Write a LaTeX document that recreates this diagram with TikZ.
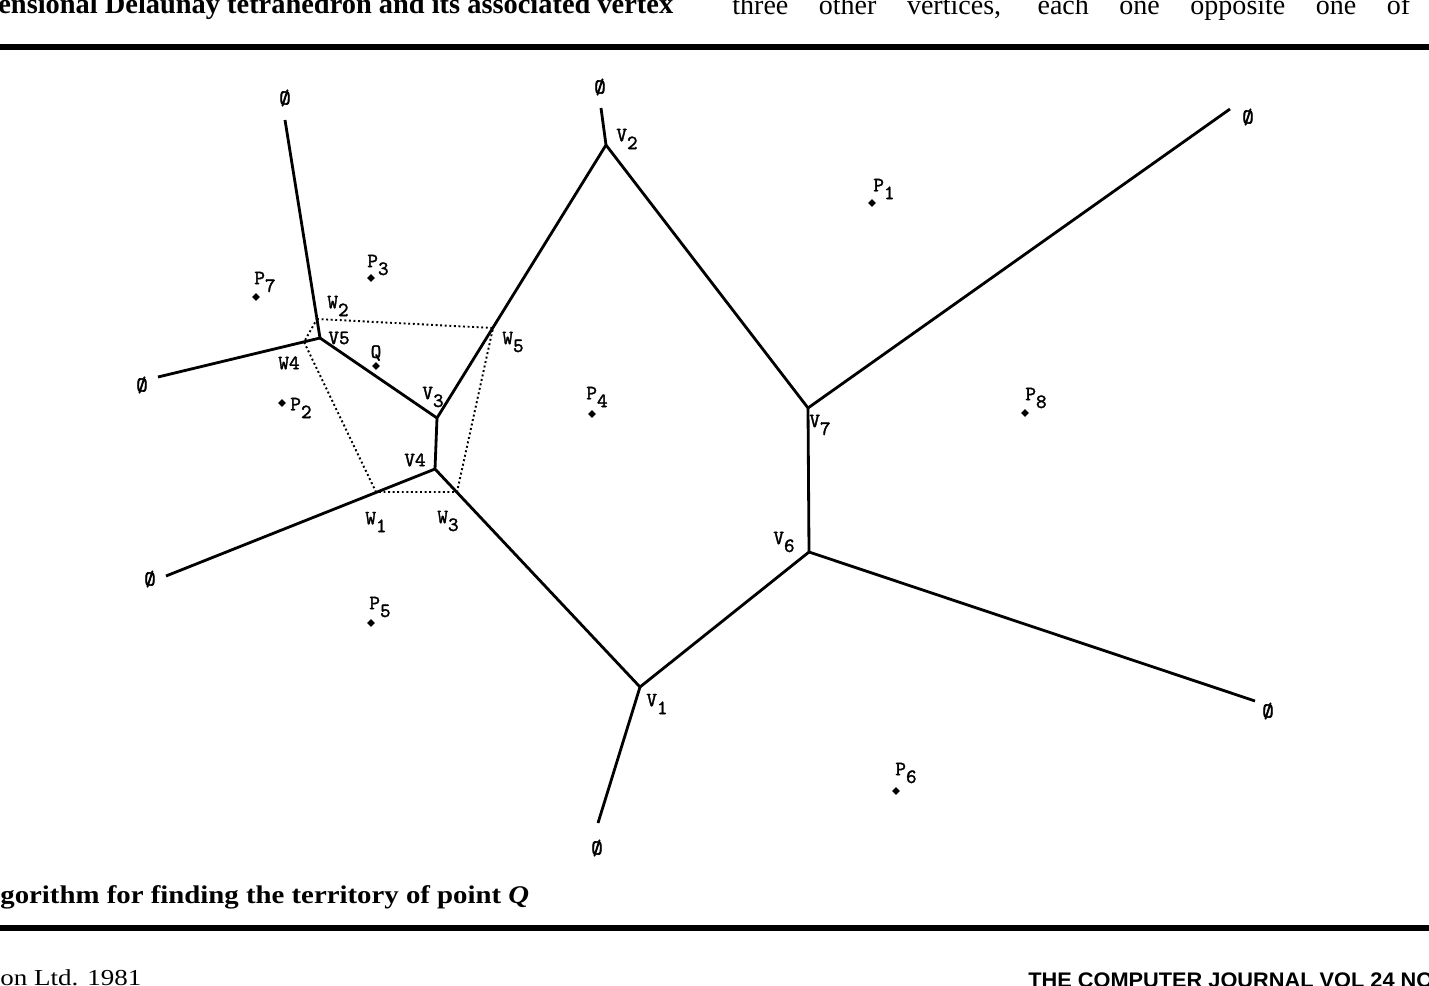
\documentclass[tikz,border=0pt]{standalone}
\usepackage{fontspec}
\usepackage{graphicx}
\usetikzlibrary{shapes.geometric}
\newfontfamily\capfont{Liberation Serif}
\newfontfamily\footfont{Liberation Sans}
\newfontfamily\lblfont{lmmono10-regular.otf}[FakeBold=1.6]
\newfontfamily\inffont{lmmono10-regular.otf}[FakeBold=3]
\newcommand{\lblsub}[2]{#1\raisebox{-0.9ex}{#2}}

\tikzset{
  edge/.style={line width=1.6pt},
  wpath/.style={line width=1.1pt, dash pattern=on 1.1pt off 1.5pt},
  site/.style={diamond, fill, inner sep=0pt, minimum size=4.6pt},
  lbl/.style={font=\fontsize{11.5}{13}\lblfont, inner sep=0pt},
  inf/.style={font=\fontsize{12}{14}\inffont, inner sep=0pt},
  page/.style={anchor=base west, inner sep=0pt},
}

\begin{document}
\begin{tikzpicture}[x=0.02cm, y=-0.02cm]
    \useasboundingbox (0,0) rectangle (1429,986);
    % page text round the figure
    \node[page] (hdl) at (-2,14) {\resizebox{13.5cm}{\height}{\capfont\bfseries\fontsize{16}{18}\selectfont ensional Delaunay tetrahedron and its associated vertex}};
    \node[page] (hdr) at (732,15) {\resizebox{13.56cm}{\height}{\capfont\fontsize{16}{18}\selectfont\makebox[13.6cm][s]{three other vertices, each one opposite one of}}};
    \draw[line width=3.4pt] (0,47) -- (1429,47);
    \node[page] (cap) at (0,903) {\resizebox{10.58cm}{\height}{\capfont\bfseries\fontsize{14.5}{16}\selectfont gorithm for finding the territory of point \textit{Q}}};
    \draw[line width=3.4pt] (0,928) -- (1429,928);
    \node[page] (ftl) at (0,985) {\resizebox{2.82cm}{\height}{\capfont\fontsize{13}{14}\selectfont on Ltd. 1981}};
    \node[page] (ftr) at (1028,987) {\resizebox{8.1cm}{\height}{\footfont\bfseries\fontsize{12}{13}\selectfont THE COMPUTER JOURNAL VOL 24 NO}};

    % Voronoi vertices
    \coordinate (v1) at (640,687);
    \coordinate (v2) at (606,145);
    \coordinate (v3) at (437,418);
    \coordinate (v4) at (435,469);
    \coordinate (v5) at (320,338);
    \coordinate (v6) at (809,552);
    \coordinate (v7) at (808,408);
    % open ends
    \coordinate (e2) at (601,108);
    \coordinate (e5a) at (285,120);
    \coordinate (e5b) at (158,377);
    \coordinate (e4) at (166,576);
    \coordinate (e1) at (598,823);
    \coordinate (e6) at (1255,701);
    \coordinate (e7) at (1230,109);

    \draw[edge] (e2) -- (v2) -- (v3) -- (v4) -- (v1) -- (v6) -- (v7) -- (v2);
    \draw[edge] (e5a) -- (v5) -- (e5b);
    \draw[edge] (v3) -- (v5);
    \draw[edge] (v4) -- (e4);
    \draw[edge] (v1) -- (e1);
    \draw[edge] (v6) -- (e6);
    \draw[edge] (v7) -- (e7);

    % territory of Q
    \coordinate (w1) at (376,492);
    \coordinate (w2) at (317,319);
    \coordinate (w3) at (457,492);
    \coordinate (w4) at (304,342);
    \coordinate (w5) at (493,328);
    \draw[wpath] (w2) -- (w5) -- (w3) -- (w1) -- (w4) -- cycle;

    % points
    \node[site] (p1) at (872,203) {};
    \node[site] (p2) at (282,403) {};
    \node[site] (p3) at (371,278) {};
    \node[site] (p4) at (592,414) {};
    \node[site] (p5) at (371,623) {};
    \node[site] (p6) at (896,791) {};
    \node[site] (p7) at (256,297) {};
    \node[site] (p8) at (1025,413) {};
    \node[site] (q) at (376,366) {};

    \node[lbl] (lp1) at (884,189) {\lblsub{P}{1}};
    \node[lbl] (lp2) at (301,408) {\lblsub{P}{2}};
    \node[lbl] (lp3) at (378,265) {\lblsub{P}{3}};
    \node[lbl] (lp4) at (597,397) {\lblsub{P}{4}};
    \node[lbl] (lp5) at (380,607) {\lblsub{P}{5}};
    \node[lbl] (lp6) at (906,773) {\lblsub{P}{6}};
    \node[lbl] (lp7) at (265,282) {\lblsub{P}{7}};
    \node[lbl] (lp8) at (1036,398) {\lblsub{P}{8}};
    \node[lbl] (lq) at (376,353) {Q};

    \node[lbl] (lv1) at (657,704) {\lblsub{V}{1}};
    \node[lbl] (lv2) at (627,139) {\lblsub{V}{2}};
    \node[lbl] (lv3) at (433,397) {\lblsub{V}{3}};
    \node[lbl] (lv4) at (415,460) {V4};
    \node[lbl] (lv5) at (339,338) {V5};
    \node[lbl] (lv6) at (784,542) {\lblsub{V}{6}};
    \node[lbl] (lv7) at (820,425) {\lblsub{V}{7}};

    \node[lbl] (lw1) at (376,522) {\lblsub{W}{1}};
    \node[lbl] (lw2) at (338,306) {\lblsub{W}{2}};
    \node[lbl] (lw3) at (448,521) {\lblsub{W}{3}};
    \node[lbl] (lw4) at (289,363) {W4};
    \node[lbl] (lw5) at (513,342) {\lblsub{W}{5}};

    % unbounded edges
    \node[inf] (o2) at (600,87) {Ø};
    \node[inf] (o5a) at (285,98) {Ø};
    \node[inf] (o5b) at (142,385) {Ø};
    \node[inf] (o4) at (150,579) {Ø};
    \node[inf] (o1) at (597,848) {Ø};
    \node[inf] (o6) at (1268,711) {Ø};
    \node[inf] (o7) at (1248,117) {Ø};
\end{tikzpicture}
\end{document}
